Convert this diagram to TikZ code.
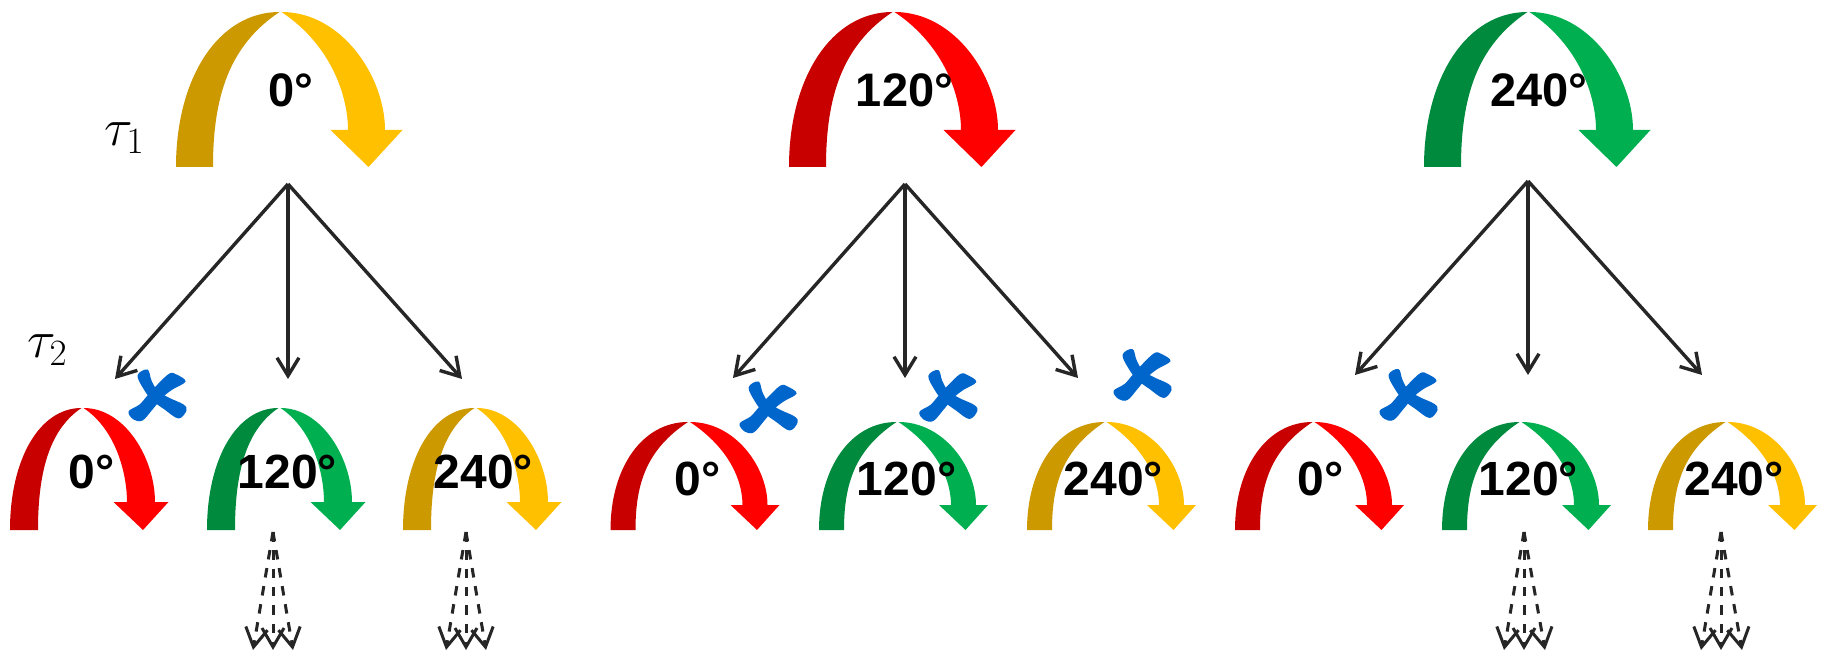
\documentclass[tikz,border=0pt]{standalone}
\usepackage{fix-cm}
\usepackage[no-math]{fontspec}
\setmainfont{Liberation Sans}
\usetikzlibrary{arrows.meta}

\definecolor{goldD}{RGB}{204,153,0}
\definecolor{goldL}{RGB}{255,192,0}
\definecolor{redD}{RGB}{200,0,0}
\definecolor{redL}{RGB}{255,0,0}
\definecolor{grnD}{RGB}{0,138,62}
\definecolor{grnL}{RGB}{0,176,80}
\definecolor{crossblue}{RGB}{0,102,204}
\definecolor{ink}{RGB}{38,38,38}

% Two-tone arc arrow:
% #1 left x, #2 top y, #3 bottom y, #4 outer span, #5 band width,
% #6 head overhang, #7 head height, #8 rising colour, #9 falling colour
\newcommand{\rotarrow}[9]{%
  \pgfmathsetmacro\rX{#1}%
  \pgfmathsetmacro\rT{#2}%
  \pgfmathsetmacro\rB{#3}%
  \pgfmathsetmacro\rW{#4}%
  \pgfmathsetmacro\rt{#5}%
  \pgfmathsetmacro\rHt{#3-#2}%
  \pgfmathsetmacro\rC{#1+#4/2}%
  \pgfmathsetmacro\rHB{#3-#7}%
  \pgfmathsetmacro\rIw{#4/2-#5}%
  \fill[#8] (\rX,\rB)
    .. controls (\rX,\rB-0.58*\rHt) and (\rC-1-0.58*\rW/2,\rT) .. (\rC-1,\rT)
    .. controls (\rC-1-0.75*\rIw,\rT+0.5*\rIw) and (\rX+\rt,\rB-0.45*\rHt) .. (\rX+\rt,\rB)
    -- cycle;
  \fill[#9] (\rC+1,\rT)
    .. controls (\rC+1+0.58*\rW/2,\rT) and (\rX+\rW,\rB-0.58*\rHt) .. (\rX+\rW,\rHB)
    -- (\rX+\rW+#6,\rHB) -- (\rX+\rW-\rt/2+2,\rB) -- (\rX+\rW-\rt-#6,\rHB)
    -- (\rX+\rW-\rt,\rHB)
    .. controls (\rX+\rW-\rt,\rB-0.45*\rHt) and (\rC+1+0.75*\rIw,\rT+0.5*\rIw) .. (\rC+1,\rT)
    -- cycle;
}

\tikzset{
  conn/.style={draw=ink, line width=3.4pt, -{Straight Barb[length=18pt,width=22pt]}},
  branch/.style={draw=ink, line width=3pt, dash pattern=on 9.5pt off 8.8pt,
                 -{Straight Barb[length=19pt,width=22pt]}},
  biglbl/.style={font=\fontsize{47}{54}\selectfont\bfseries, inner sep=0pt, anchor=base},
  smalllbl/.style={font=\fontsize{48}{56}\selectfont\bfseries, inner sep=0pt, anchor=base},
  taulbl/.style={font=\fontsize{53}{60}\selectfont, inner sep=0pt, anchor=base west},
  xmark/.pic={
    \fill[crossblue] plot[smooth cycle, tension=0.6] coordinates
      {(-20,-19) (-10,-25) (-6,-14) (0,-4) (11,3) (26,10) (29,16) (21,24) (7,15) (-5,6) (-13,-4)};
    \fill[crossblue] plot[smooth cycle, tension=0.6] coordinates
      {(12,-21) (19,-20) (28,-13) (15,-5) (5,3) (-5,15) (-15,26) (-24,25) (-29,17) (-18,10) (-10,1) (0,-10)};
  }
}

\begin{document}
\begin{tikzpicture}[x=1pt,y=-1pt]
\useasboundingbox (0,0) rectangle (1824,652);
\fill[white] (0,0) rectangle (1824,652);

% first-level rotations
\rotarrow{176}{12}{167}{209}{37}{17.5}{37}{goldD}{goldL}
\rotarrow{789}{12}{167}{209}{37}{17.5}{37}{redD}{redL}
\rotarrow{1424}{12}{167}{209}{37}{17.5}{37}{grnD}{grnL}

% second-level rotations, left group
\rotarrow{10}{408}{530}{145}{28}{13.5}{28}{redD}{redL}
\rotarrow{207}{408}{530}{145}{28}{13.5}{28}{grnD}{grnL}
\rotarrow{403}{408}{530}{145}{28}{13.5}{28}{goldD}{goldL}
% middle group
\rotarrow{610.5}{422}{530}{157}{25}{12}{25}{redD}{redL}
\rotarrow{819}{422}{530}{157}{25}{12}{25}{grnD}{grnL}
\rotarrow{1027}{422}{530}{157}{25}{12}{25}{goldD}{goldL}
% right group
\rotarrow{1235}{422}{530}{157}{25}{12}{25}{redD}{redL}
\rotarrow{1442}{422}{530}{157}{25}{12}{25}{grnD}{grnL}
\rotarrow{1648}{422}{530}{157}{25}{12}{25}{goldD}{goldL}

% angle labels
\node[biglbl] (L1) at (291,107) {0°};
\node[biglbl] (L2) at (904.5,107) {120°};
\node[biglbl] (L3) at (1539,107) {240°};

\node[smalllbl] (A1) at (91.5,488) {0°};
\node[smalllbl] (A2) at (287.5,488) {120°};
\node[smalllbl] (A3) at (483.5,488) {240°};
\node[smalllbl] (B1) at (697.4,495) {0°};
\node[smalllbl] (B2) at (906.6,495) {120°};
\node[smalllbl] (B3) at (1113.5,495) {240°};
\node[smalllbl] (C1) at (1320.5,495) {0°};
\node[smalllbl] (C2) at (1528.5,495) {120°};
\node[smalllbl] (C3) at (1734,495) {240°};

% step labels
\node[taulbl] (tau1) at (104,146) {$\tau_1$};
\node[taulbl] (tau2) at (27,358) {$\tau_2$};

% branching connectors
\coordinate (o1) at (288,184);
\coordinate (a1) at (115,379);
\coordinate (b1) at (288,379);
\coordinate (c1) at (462,379);
\coordinate (o2) at (905,184);
\coordinate (a2) at (733,378);
\coordinate (b2) at (905,378);
\coordinate (c2) at (1078,378);
\coordinate (o3) at (1528,181);
\coordinate (a3) at (1355,375);
\coordinate (b3) at (1528,375);
\coordinate (c3) at (1702,375);
\foreach \o/\e in {o1/a1,o1/b1,o1/c1,o2/a2,o2/b2,o2/c2,o3/a3,o3/b3,o3/c3}
  \draw[conn] (\o) -- (\e);

% rejected branches
\pic (x1) at (157.5,394.5) {xmark};
\pic (x2) at (768.6,406.5) {xmark};
\pic (x3) at (948.3,395) {xmark};
\pic (x4) at (1142.5,374) {xmark};
\pic (x5) at (1408.5,394) {xmark};

% continuing branches
\coordinate (d1) at (273,532);
\coordinate (d1a) at (253,650);
\coordinate (d1b) at (273,650);
\coordinate (d1c) at (293,650);
\coordinate (d2) at (466,532);
\coordinate (d2a) at (446,650);
\coordinate (d2b) at (466,650);
\coordinate (d2c) at (486,650);
\coordinate (d3) at (1524,532);
\coordinate (d3a) at (1504,650);
\coordinate (d3b) at (1524,650);
\coordinate (d3c) at (1545,650);
\coordinate (d4) at (1721,532);
\coordinate (d4a) at (1701,650);
\coordinate (d4b) at (1721,650);
\coordinate (d4c) at (1742,650);
\foreach \s in {d1,d2,d3,d4}
  \foreach \t in {a,b,c}
    \draw[branch] (\s) -- (\s\t);
\end{tikzpicture}
\end{document}
